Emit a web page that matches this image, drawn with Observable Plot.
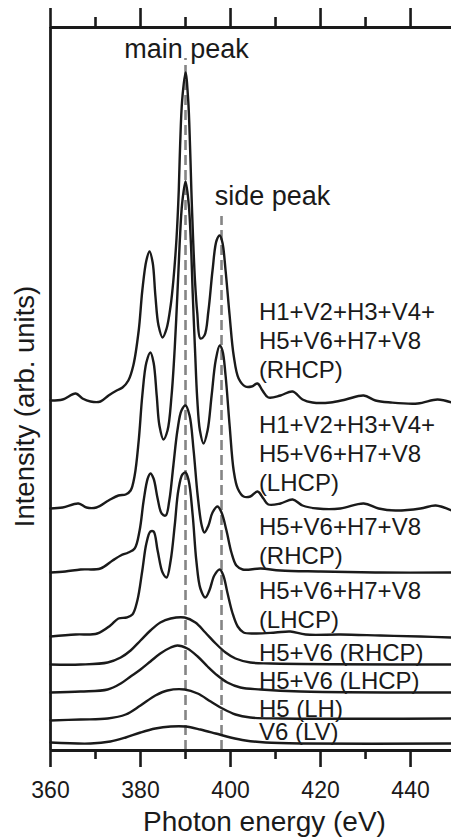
<!DOCTYPE html>
<html><head><meta charset="utf-8">
<script src="https://cdn.jsdelivr.net/npm/d3@7"></script>
<script src="https://cdn.jsdelivr.net/npm/@observablehq/plot@0.6"></script>
<style>html,body{margin:0;padding:0;background:#fff;} #chart svg{display:block}</style>
</head><body><div id="chart"></div>
<script>
// Spectra: [photon energy (eV), intensity above own baseline (arb. units)]
const sumRHCP = [[360,0],[362.7,1],[365.6,7],[367.1,2],[368.9,-1],[371.1,-1],[372.9,5],[374.7,10],[376,13],[377.3,20],[378.4,35],[379.6,70],[380.4,110],[381.3,140],[382,149],[382.7,138],[383.3,105],[384,75],[384.9,63],[385.8,72],[386.7,95],[387.3,120],[388,162],[388.5,210],[388.8,255],[389.25,300],[390,328],[390.6,300],[391,255],[391.3,210],[391.7,160],[392.1,120],[392.6,88],[393.3,62],[394.2,65],[395.1,90],[396,130],[396.9,160],[397.6,165],[398.2,158],[398.9,130],[399.8,85],[400.7,45],[401.8,22],[403.3,14],[404.7,14],[406,17],[407.1,10],[408.4,3],[411.1,5],[413.8,9],[416,1],[418.2,-2],[422.2,-2],[425.6,1],[429.6,5],[432.2,0],[435.6,-2],[441.6,-3],[446,1],[449.1,-2]];
const sumLHCP = [[360,0],[362.7,1],[366.2,5],[368,1],[370.2,1],[372.9,8],[375.1,13],[376.7,14],[377.8,18],[378.7,33],[379.6,68],[380.4,113],[381.3,146],[382.2,156],[382.9,146],[383.6,113],[384.2,83],[385.1,69],[386,78],[386.9,113],[387.6,160],[388.2,215],[388.7,265],[389.25,305],[390,327],[390.7,305],[391.2,265],[391.6,215],[392.1,160],[392.6,110],[393.2,78],[394,65],[394.9,78],[395.8,113],[396.7,148],[397.6,163],[398.2,158],[398.9,133],[399.8,83],[400.7,38],[401.6,20],[402.9,12],[404.4,12],[406,17],[407.3,10],[408.4,4],[411.1,5],[413.8,9],[416,3],[419.3,0],[424.4,0],[429.6,5],[432.9,0],[436.7,-2],[442.2,0],[445.6,3],[449.1,-2]];
const partRHCP = [[360,0],[363.3,1],[366.7,3],[371.1,4],[373.8,12],[375.6,17],[377.3,20],[378.7,24],[379.8,42],[380.7,72],[381.6,94],[382.2,99],[382.9,94],[383.8,74],[384.7,59],[385.6,57],[386.4,72],[387.3,107],[388.2,142],[389.1,162],[390,167],[390.9,157],[391.8,122],[392.7,77],[393.6,47],[394.2,40],[395.1,47],[396,60],[397.1,66],[398,60],[399.1,42],[400.2,20],[401.3,7],[402.7,3],[406.7,4],[411.1,2],[420,1],[433.3,0],[449.1,0]];
const partLHCP = [[360,-1],[365.6,1],[370.4,2],[373.3,10],[375.1,17],[376.9,18],[378.2,21],[379.3,35],[380.4,65],[381.3,92],[382.2,104],[382.9,104],[383.8,85],[384.9,63],[385.8,58],[386.7,75],[387.6,110],[388.4,145],[389.3,161],[390,163],[390.7,155],[391.6,120],[392.4,75],[393.3,47],[394.4,38],[395.3,45],[396.4,60],[397.6,66],[398.4,60],[399.3,43],[400.4,23],[401.6,9],[402.9,3],[405.6,2],[410,3],[413.3,4],[416.7,1],[424.4,1],[433.3,0],[442.2,-1],[449.1,-2]];
const h5v6RHCP = [[360,0],[366.7,0],[372.7,2],[375.6,7],[377.8,14],[380,24],[382.2,34],[384.4,42],[386.7,46],[389.8,47],[392.2,42],[394.4,32],[396.7,21],[398.9,12],[401.1,6],[404.4,2],[408.9,1],[449.1,0]];
const h5v6LHCP = [[360,-1],[366.7,0],[372.7,2],[375.6,8],[377.8,15],[380,22],[382.2,30],[384.4,38],[386.7,44],[388.2,46],[390.4,43],[392.7,35],[394.9,25],[397.1,16],[399.3,9],[402.2,4],[406.7,2],[415.6,0],[449.1,-1]];
const h5LH = [[360,-2],[366.7,-1],[372.7,0],[376.7,4],[380,13],[383.3,23],[386,28],[389.8,29],[392.7,25],[395.6,17],[398.2,10],[401.1,4],[404.4,1],[411.1,0],[449.1,0]];
const v6LV = [[360,1],[368.9,0],[373.3,2],[376.7,6],[380,11],[383.3,15],[386.7,17],[390,17],[393.3,14],[396.7,10],[400,6],[403.3,3],[407.8,1],[415.6,0],[449.1,0]];

const labels = ["H1+V2+H3+V4+\nH5+V6+H7+V8\n(RHCP)", "H1+V2+H3+V4+\nH5+V6+H7+V8\n(LHCP)", "H5+V6+H7+V8\n(RHCP)", "H5+V6+H7+V8\n(LHCP)", "H5+V6 (RHCP)", "H5+V6 (LHCP)", "H5 (LH)", "V6 (LV)"];
const offsets = [350, 242, 178, 115, 86, 59, 32, 7];
const labelLift = [23, 18, 9, 8, 4, 3, 2, 4];
const labelEnergy = 406.3;
const majorTicks = [360, 380, 400, 420, 440];
const minorTicks = [370, 390, 410, 430];
const peakEnergies = [390, 398];
const peakTops = [692, 534];
const peakNames = ["main peak", "side peak"];

const spectra = [sumRHCP, sumLHCP, partRHCP, partLHCP, h5v6RHCP, h5v6LHCP, h5LH, v6LV];
const rows = spectra.flatMap((s, k) => s.map(([E, I]) => ({k, E, y: offsets[k] + I})));
const labelRows = labels.map((t, k) => ({t, E: labelEnergy, y: offsets[k] + labelLift[k]}));
const peakRows = peakEnergies.map((E, i) => ({E, top: peakTops[i], name: peakNames[i]}));

const ink = "#1a1a1a";
const font = "'Liberation Sans', Arial, Helvetica, sans-serif";

const chart = Plot.plot({
  width: 451, height: 838,
  marginLeft: 50, marginRight: 0, marginTop: 27, marginBottom: 88,
  x: {domain: [360, 449.1], axis: null},
  y: {domain: [0, 723], axis: null},
  style: {fontFamily: font, fontSize: "23px", background: "#fff", color: ink, overflow: "visible"},
  marks: [
    Plot.ruleX(peakRows, {x: "E", y1: 0, y2: "top", stroke: "#858585", strokeWidth: 2.6, strokeDasharray: "10,5"}),
    Plot.line(rows, {x: "E", y: "y", z: "k", curve: "catmull-rom", stroke: ink, strokeWidth: 2.4}),
    Plot.ruleX([360], {stroke: ink, strokeWidth: 2.8}),
    Plot.ruleY([0, 723], {stroke: ink, strokeWidth: 2.8}),
    Plot.axisX(majorTicks, {anchor: "bottom", tickSize: 17, stroke: ink, strokeWidth: 2.6, fill: "none", label: null}),
    Plot.axisX(minorTicks, {anchor: "bottom", tickSize: 9, stroke: ink, strokeWidth: 2.6, fill: "none", label: null}),
    Plot.axisX(majorTicks, {anchor: "top", tickSize: 20, stroke: ink, strokeWidth: 2.6, fill: "none", label: null}),
    Plot.axisX(minorTicks, {anchor: "top", tickSize: 11, stroke: ink, strokeWidth: 2.6, fill: "none", label: null}),
    Plot.text(majorTicks, {x: d => d, text: d => String(d), frameAnchor: "bottom", dy: 47, textAnchor: "middle", lineAnchor: "bottom", fontSize: 23, fill: ink}),
    Plot.text(labelRows, {x: "E", y: "y", text: "t", textAnchor: "start", lineAnchor: "bottom", lineHeight: 1.19, fontSize: 24, fill: ink}),
    Plot.text([peakRows[0]], {x: "E", y: "top", text: "name", textAnchor: "middle", lineAnchor: "bottom", dx: 1, dy: -1, fontSize: 27, fill: ink}),
    Plot.text([peakRows[1]], {x: "E", y: "top", text: "name", textAnchor: "middle", lineAnchor: "bottom", dx: 51, dy: -12, fontSize: 27, fill: ink}),
    Plot.text(["Intensity (arb. units)"], {text: d => d, frameAnchor: "left", rotate: -90, dx: -17, dy: 17.5, textAnchor: "middle", lineAnchor: "bottom", fontSize: 27.5, fill: ink}),
    Plot.text(["Photon energy (eV)"], {text: d => d, frameAnchor: "bottom", dx: 13.5, dy: 80, textAnchor: "middle", lineAnchor: "bottom", fontSize: 28, fill: ink})
  ]
});
document.getElementById("chart").appendChild(chart);
</script>
</body></html>
